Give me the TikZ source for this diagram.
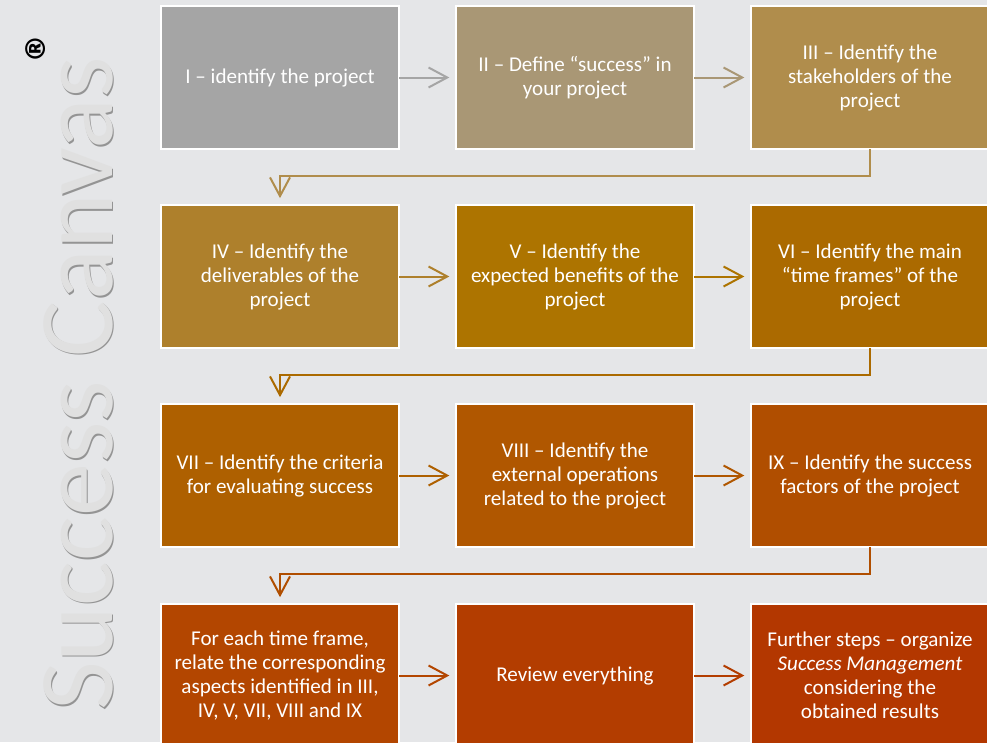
\documentclass[tikz,border=0pt]{standalone}
\usepackage{fontspec}
\setmainfont{Carlito}
\usetikzlibrary{arrows.meta,calc}
\definecolor{canvas}{HTML}{E5E6E8}
\definecolor{c1}{HTML}{A5A5A5}
\definecolor{c2}{HTML}{A99775}
\definecolor{c3}{HTML}{B08D4C}
\definecolor{c4}{HTML}{AE802C}
\definecolor{c5}{HTML}{AD7400}
\definecolor{c6}{HTML}{AB6A00}
\definecolor{c7}{HTML}{AE6000}
\definecolor{c8}{HTML}{B05700}
\definecolor{c9}{HTML}{B04E00}
\definecolor{c10}{HTML}{B34600}
\definecolor{c11}{HTML}{B33D00}
\definecolor{c12}{HTML}{B33700}

\begin{document}
\begin{tikzpicture}[
x=0.75pt,y=-0.75pt,
>={Straight Barb[length=14pt,width=15pt]},
stage/.style={
	fill=#1,
	draw=white,
	line width=1.5pt,
	minimum width=178.5pt,
	minimum height=107.5pt,
	inner sep=0pt,
	outer sep=0pt,
	align=center,
	text=white,
	font=\fontsize{15.8pt}{18pt}\selectfont
},
flow/.style={
	->,
	draw=#1,
	line width=1.5pt,
	shorten >=5pt
},
title/.style={
	rotate=90,
	anchor=base,
	inner sep=0pt,
	font=\fontsize{79.5pt}{79.5pt}\selectfont
}
]
\path[use as bounding box,fill=canvas] (0,0) rectangle (987,742);
\clip (0,0) rectangle (987,742);

% title on the left
\node[title,text=black!42] (shadow) at (113.5,385.5) {Success Canvas};
\node[title,text=black!12] (title) at (112,384) {Success Canvas};
\node[rotate=90,inner sep=0pt,font=\fontsize{46pt}{46pt}\selectfont\bfseries] (reg) at (47,45) {®};

% the twelve stages
\foreach \n/\x/\y/\t in {
1/280/77.5/{I – identify the project},
2/575/77.5/{II – Define “success” in\\your project},
3/870/77.5/{III – Identify the\\stakeholders of the\\project},
4/280/276.5/{IV – Identify the\\deliverables of the\\project},
5/575/276.5/{V – Identify the\\expected benefits of the\\project},
6/870/276.5/{VI – Identify the main\\“time frames” of the\\project},
7/280/475.5/{VII – Identify the criteria\\for evaluating success},
8/575/475.5/{VIII – Identify the\\external operations\\related to the project},
9/870/475.5/{IX – Identify the success\\factors of the project},
10/280/675.5/{For each time frame,\\relate the corresponding\\aspects identified in III,\\IV, V, VII, VIII and IX},
11/575/675.5/{Review everything},
12/870/675.5/{Further steps – organize\\\textit{Success Management}\\considering the\\obtained results}}
\node[stage=c\n] (s\n) at (\x,\y) {\t};

\foreach \a/\b in {1/2,2/3,4/5,5/6,7/8,8/9,10/11,11/12}
\draw[flow=c\a] (s\a.east) -- (s\b.west);

\foreach \a/\b in {3/4,6/7,9/10}
\draw[flow=c\a] (s\a.south) -- ++(0,27) -| (s\b.north);
\end{tikzpicture}
\end{document}
